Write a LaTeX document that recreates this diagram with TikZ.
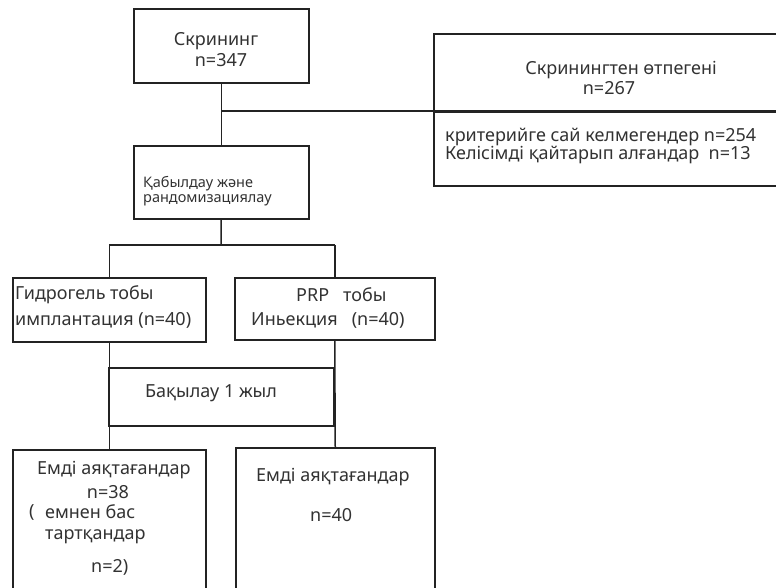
\documentclass[tikz,border=0pt]{standalone}
\usepackage{fontspec}
\setmainfont{Noto Sans}
\usetikzlibrary{positioning}
\definecolor{boxline}{RGB}{35,35,35}
\definecolor{txtgray}{RGB}{50,50,50}

\tikzset{
  flowbox/.style={draw=boxline, line width=1.5pt, inner sep=0pt, anchor=north west},
  conn/.style={draw=boxline, line width=1.5pt},
  lbl/.style={inner sep=0pt, text=txtgray, font=\fontsize{18}{20}\selectfont},
  lblsmall/.style={lbl, font=\fontsize{14.5}{17}\selectfont},
}

\begin{document}
\begin{tikzpicture}[x=1pt, y=-1pt]
  \useasboundingbox (0,0) rectangle (776,587);
  \clip (0,0) rectangle (776,587);

  % boxes
  \node[flowbox, minimum width=175pt, minimum height=74pt] (scr) at (133,8) {};
  \node[flowbox, minimum width=400pt, minimum height=78pt] (excl) at (433,33) {};
  \node[flowbox, minimum width=400pt, minimum height=74pt] (excldet) at (433,111) {};
  \node[flowbox, minimum width=175pt, minimum height=73pt] (rand) at (133,145) {};
  \node[flowbox, minimum width=193pt, minimum height=64pt] (hydro) at (12,277) {};
  \node[flowbox, minimum width=200pt, minimum height=62pt] (prp) at (234,277) {};
  \node[flowbox, minimum width=225pt, minimum height=58pt] (follow) at (108,367) {};
  \node[flowbox, minimum width=193pt, minimum height=200pt] (donel) at (12,449) {};
  \node[flowbox, minimum width=199pt, minimum height=200pt] (doner) at (235,447) {};

  % texts
  \node[lbl] (scrname) at (216,41) {Скрининг};
  \node[lbl] (scrn) at (221,60) {n=347};
  \node[lbl] (exclname) at (621,70) {Скринингтен өтпегені};
  \node[lbl] (excln) at (609,88) {n=267};
  \node[lbl, anchor=west] (crit) at (445,137) {критерийге сай келмегендер n=254};
  \node[lbl, anchor=west] (withdr) at (445,155) {Келісімді қайтарып алғандар\ \ n=13};
  \node[lblsmall, anchor=west] (randa) at (143,184) {Қабылдау және};
  \node[lblsmall, anchor=west] (randb) at (143,200) {рандомизациялау};
  \node[lbl, anchor=west] (hydroa) at (15,295) {Гидрогель тобы};
  \node[lbl, anchor=west] (hydrob) at (15,320) {имплантация (n=40)};
  \node[lbl, anchor=west] (prpa) at (296,295) {PRP\ \ \ тобы};
  \node[lbl, anchor=west] (prpb) at (251,320) {Иньекция\ \ \ (n=40)};
  \node[lbl] (followt) at (211,393) {Бақылау 1 жыл};
  \node[lbl, anchor=west] (donela) at (37,470) {Емді аяқтағандар};
  \node[lbl] (doneln) at (108,492) {n=38};
  \node[lbl, anchor=west] (paren) at (29,512) {(};
  \node[lbl, anchor=west] (quita) at (45,512) {емнен бас};
  \node[lbl, anchor=west] (quitb) at (45,537) {тартқандар};
  \node[lbl, anchor=west] (quitn) at (91,567) {n=2)};
  \node[lbl, anchor=west] (donera) at (256,477) {Емді аяқтағандар};
  \node[lbl, anchor=west] (donern) at (310,515) {n=40};

  % connectors
  \coordinate (exclfork) at (221,111);
  \coordinate (excledge) at (776,111);
  \coordinate (randfork) at (221,245);
  \draw[conn] (scr.south) -- (rand.north);
  \draw[conn] (exclfork) -- (excledge);
  \draw[conn] (rand.south) -- (randfork);
  \draw[conn] (hydro.north |- randfork) -- (prp.north |- randfork);
  \draw[conn] (hydro.north |- randfork) -- (hydro.north);
  \draw[conn] (prp.north |- randfork) -- (prp.north);
  \draw[conn] (hydro.south) -- (donel.north);
  \draw[conn] (prp.south) -- (doner.north);
\end{tikzpicture}
\end{document}
